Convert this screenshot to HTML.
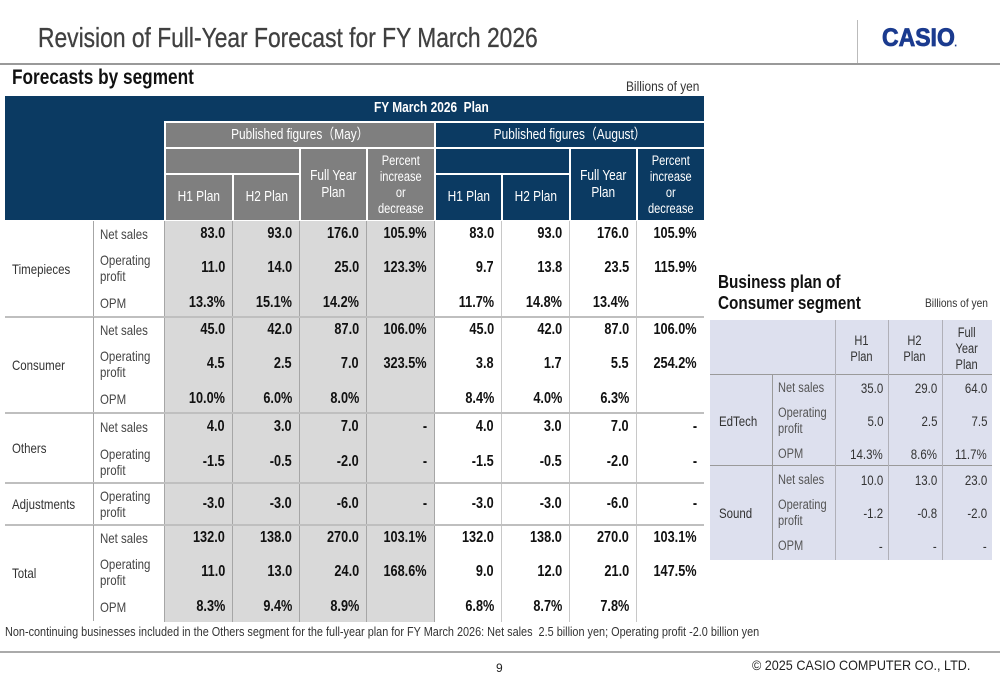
<!DOCTYPE html>
<html><head><meta charset="utf-8">
<style>
body{margin:0;width:1000px;height:685px;background:#fff;position:relative;overflow:hidden;font-family:"Liberation Sans",sans-serif;color:#222}
.a{position:absolute;box-sizing:border-box}
.c{position:absolute;box-sizing:border-box;display:flex;align-items:center;line-height:1.15}
.c span{display:inline-block;transform:scaleX(0.82)}
.r{justify-content:flex-end;text-align:right}.r span{transform-origin:right center}
.m{justify-content:center;text-align:center}.m span{transform-origin:center}
.l{justify-content:flex-start}.l span{transform-origin:left center}
</style></head><body>
<div class="a" style="left:38px;top:22px;font-size:28px;color:#404040;transform:scaleX(0.815);transform-origin:left;white-space:nowrap;-webkit-text-stroke:0.3px #404040">Revision of Full-Year Forecast for FY March 2026</div>
<div class="a" style="left:857px;top:20px;width:1px;height:43px;background:#bbb"></div>
<div class="a" style="left:882px;top:24px;font-size:25px;font-weight:900;color:#1b3b8f;transform:scaleX(0.92);transform-origin:left;-webkit-text-stroke:0.8px #1b3b8f">CASIO<span style="font-size:6px">.</span></div>
<div class="a" style="left:0;top:63px;width:1000px;height:2px;background:#999"></div>
<div class="a" style="left:12px;top:66px;font-size:21px;font-weight:bold;color:#111;transform:scaleX(0.82);transform-origin:left;white-space:nowrap">Forecasts by segment</div>
<div class="a" style="left:626px;top:78px;font-size:14px;color:#333;transform:scaleX(0.85);transform-origin:left;white-space:nowrap">Billions of yen</div>
<div id="main"></div>
<div class="a" style="left:718px;top:272px;font-size:18px;font-weight:bold;color:#111;line-height:21px;transform:scaleX(0.85);transform-origin:left;white-space:nowrap">Business plan of<br>Consumer segment</div>
<div class="a" style="left:925px;top:296px;font-size:12px;color:#333;transform:scaleX(0.85);transform-origin:left;white-space:nowrap">Billions of yen</div>
<div id="side"></div>
<div class="a" style="left:5px;top:625px;font-size:12.5px;color:#333;transform:scaleX(0.87);transform-origin:left;white-space:nowrap">Non-continuing businesses included in the Others segment for the full-year plan for FY March 2026: Net sales&nbsp; 2.5 billion yen; Operating profit -2.0 billion yen</div>
<div class="a" style="left:0;top:651px;width:1000px;height:2px;background:#aaa"></div>
<div class="a" style="left:496px;top:661px;font-size:12px;color:#222">9</div>
<div class="a" style="left:752px;top:657px;font-size:14px;color:#222;transform:scaleX(0.9);transform-origin:left;white-space:nowrap">© 2025 CASIO COMPUTER CO., LTD.</div>
<script>
const segments=["Timepieces","Consumer","Others","Adjustments","Total"];
const itemsPerSeg=[["Net sales","Operating profit","OPM"],["Net sales","Operating profit","OPM"],["Net sales","Operating profit"],["Operating profit"],["Net sales","Operating profit","OPM"]];
const mayValues=[["83.0","93.0","176.0","105.9%"],["11.0","14.0","25.0","123.3%"],["13.3%","15.1%","14.2%",""],
["45.0","42.0","87.0","106.0%"],["4.5","2.5","7.0","323.5%"],["10.0%","6.0%","8.0%",""],
["4.0","3.0","7.0","-"],["-1.5","-0.5","-2.0","-"],
["-3.0","-3.0","-6.0","-"],
["132.0","138.0","270.0","103.1%"],["11.0","13.0","24.0","168.6%"],["8.3%","9.4%","8.9%",""]];
const augValues=[["83.0","93.0","176.0","105.9%"],["9.7","13.8","23.5","115.9%"],["11.7%","14.8%","13.4%",""],
["45.0","42.0","87.0","106.0%"],["3.8","1.7","5.5","254.2%"],["8.4%","4.0%","6.3%",""],
["4.0","3.0","7.0","-"],["-1.5","-0.5","-2.0","-"],
["-3.0","-3.0","-6.0","-"],
["132.0","138.0","270.0","103.1%"],["9.0","12.0","21.0","147.5%"],["6.8%","8.7%","7.8%",""]];
const subSegments=["EdTech","Sound"];
const subItems=["Net sales","Operating profit","OPM"];
const subValues=[["35.0","29.0","64.0"],["5.0","2.5","7.5"],["14.3%","8.6%","11.7%"],["10.0","13.0","23.0"],["-1.2","-0.8","-2.0"],["-","-","-"]];

const main=document.getElementById('main');
function box(parent,x,y,w,h,style,text,cls,name){
  const d=document.createElement('div');
  d.className=cls?('c '+cls):'a';
  d.style.cssText=`left:${x}px;top:${y}px;width:${w}px;height:${h}px;`+(style||'');
  
  
  if(text!==undefined&&text!==null){const s=document.createElement('span');s.innerHTML=text;d.appendChild(s);}
  parent.appendChild(d);return d;
}
const NAVY='#0b3a62',GRAY='#7f7f7f';
const colX=[164,232,299,366,434,501,569,636,704];
box(main,5,96,159,124,`background:${NAVY}`,null,null,'header-corner');
box(main,164,96,540,25,`background:${NAVY};color:#fff;font-weight:bold;font-size:14.5px;padding-left:210px`,'FY March 2026&nbsp; Plan','l','header-fy-plan');
const grp=[[164,GRAY,'Published figures（May）','header-may'],[434,NAVY,'Published figures（August）','header-august']];
const sub=['H1 Plan','H2 Plan','Full Year<br>Plan','Percent<br>increase<br>or<br>decrease'];
grp.forEach(([gx,col,lab,nm])=>{
  box(main,gx,121,270,26,`background:${col};color:#fff;font-size:14.5px;border-top:2px solid #fff;border-left:2px solid #fff`,lab,'m',nm);
  box(main,gx,147,135,26,`background:${col};border-top:2px solid #fff;border-left:2px solid #fff`,null,null,nm+'-h-span');
  for(let i=0;i<4;i++){
    const x=colX[(gx===164?0:4)+i],w=colX[(gx===164?0:4)+i+1]-x;
    if(i<2) box(main,x,173,w,47,`background:${col};color:#fff;font-size:14.5px;border-top:2px solid #fff;border-left:2px solid #fff`,sub[i],'m',nm+'-col-'+i);
    else if(i===2) box(main,x,147,w,73,`background:${col};color:#fff;font-size:14.5px;border-top:2px solid #fff;border-left:2px solid #fff;align-items:flex-start;padding-top:19px`,sub[i],'m',nm+'-col-'+i);
    else box(main,x,147,w,73,`background:${col};color:#fff;font-size:13.5px;line-height:16px;border-top:2px solid #fff;border-left:2px solid #fff`,sub[i],'m',nm+'-col-'+i);
  }
});
let y=221,ri=0;
box(main,164,221,270,401,'background:#d9d9d9',null,null,'may-body-bg');
for(let k=1;k<8;k++) box(main,colX[k],221,1,401,`background:${k<4?'#a6a6a6':'#c8c8c8'}`,null,null,'col-line');
box(main,164,221,1,401,'background:#a6a6a6',null,null,'col-line');
box(main,434,221,1,401,'background:#a6a6a6',null,null,'col-line');
segments.forEach((seg,si)=>{
  const items=itemsPerSeg[si];
  const segH=items.length===3?96:(items.length===2?70:42);
  box(main,5,y,88,segH,'font-size:14px;color:#333;padding-left:7px',seg,'l','segment-'+seg.toLowerCase());
  box(main,93,y,1,segH,'background:#a6a6a6',null,null,'col-line');
  const each=items.length===3?[26,42,28]:(items.length===2?[28,42]:[42]);
  let yy=y;
  items.forEach((it,ii)=>{
    const h=each[ii];
    box(main,94,yy,70,h,'font-size:14px;color:#444;padding-left:6px;line-height:16px',it==='Operating profit'?'Operating<br>profit':it,'l','row-label');
    const mv=mayValues[ri],av=augValues[ri];
    for(let c=0;c<4;c++){
      box(main,colX[c],yy,colX[c+1]-colX[c],h,'font-size:15.5px;font-weight:bold;color:#111;padding-right:7px',mv[c],'r','may-value');
      box(main,colX[c+4],yy,colX[c+5]-colX[c+4],h,'font-size:15.5px;font-weight:bold;color:#111;padding-right:7px',av[c],'r','aug-value');
    }
    yy+=h;ri++;
  });
  y+=segH;
  if(si<segments.length-1) box(main,5,y-1,699,2,'background:#bfbfbf',null,null,'row-separator');
});
const side=document.getElementById('side');
const sx=[710,772,835,888,942,992];
box(side,710,320,282,240,'background:#dde0ee',null,null,'side-bg');
box(side,710,374,282,1,'background:#9a9a9a',null,null,'side-line');
box(side,710,465,282,1,'background:#9a9a9a',null,null,'side-line');
[835,888,942].forEach(x=>box(side,x,320,1,240,'background:#b0b0b8',null,null,'side-line'));
box(side,772,375,1,185,'background:#9a9a9a',null,null,'side-line');
['H1<br>Plan','H2<br>Plan','Full<br>Year<br>Plan'].forEach((h,i)=>box(side,sx[i+2],320,sx[i+3]-sx[i+2],55,'font-size:13.5px;color:#333;line-height:16px;padding-top:2px',h,'m','side-header-'+i));
let sy=375,sr=0;
subSegments.forEach((s,si)=>{
  box(side,710,sy,62,92,'font-size:14px;color:#333;padding-left:9px',s,'l','side-segment-'+s.toLowerCase());
  const hh=[26,40,26];let yy=sy;
  subItems.forEach((it,ii)=>{
    box(side,773,yy,62,hh[ii],'font-size:13.5px;color:#555;padding-left:5px;line-height:16px',it==='Operating profit'?'Operating<br>profit':it,'l','side-row-label');
    for(let c=0;c<3;c++) box(side,sx[c+2],yy,sx[c+3]-sx[c+2],hh[ii],'font-size:14px;color:#333;padding-right:5px',subValues[sr][c],'r','side-value');
    yy+=hh[ii];sr++;
  });
  sy+=92;
});
</script>
</body></html>
